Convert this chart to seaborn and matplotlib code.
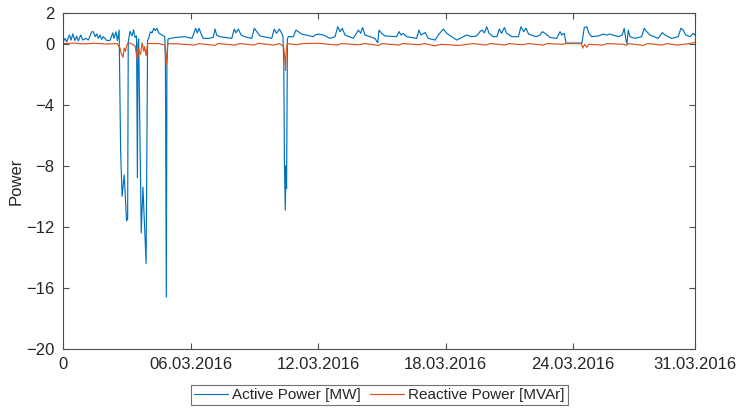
import matplotlib
matplotlib.use("Agg")
import matplotlib.pyplot as plt
import seaborn as sns
import pandas as pd

# ---- data (time in days since 01.03.2016) ----
active_day = [0.01, 0.09, 0.17, 0.30, 0.38, 0.46, 0.56, 0.64, 0.72, 0.83, 0.93, 1.08, 1.19,
              1.35, 1.43, 1.51, 1.59, 1.66, 1.74, 1.82, 1.90, 2.06, 2.21, 2.34, 2.40, 2.49,
              2.56, 2.64, 2.71, 2.78, 2.88, 2.99, 3.04, 3.07, 3.15, 3.25, 3.32, 3.39, 3.46,
              3.50, 3.53, 3.56, 3.68, 3.76, 3.91, 3.98, 4.03, 4.11, 4.19, 4.27, 4.34, 4.42,
              4.50, 4.66, 4.79, 4.82, 4.86, 4.89, 4.94, 5.27, 5.74, 6.06, 6.13, 6.24, 6.32,
              6.40, 6.49, 6.60, 6.84, 7.07, 7.15, 7.23, 7.39, 7.94, 8.06, 8.14, 8.25, 8.38,
              8.56, 8.88, 9.00, 9.12, 9.27, 9.82, 9.94, 10.05, 10.18, 10.29, 10.35, 10.39,
              10.42, 10.46, 10.49, 10.52, 10.56, 10.60, 10.84, 10.96, 11.07, 11.23, 11.78,
              11.86, 12.01, 12.25, 12.56, 12.80, 12.93, 13.04, 13.14, 13.27, 13.66, 13.90,
              14.01, 14.10, 14.21, 14.68, 14.81, 14.87, 15.00, 15.15, 15.70, 15.81, 15.91,
              16.01, 16.17, 16.64, 16.75, 16.85, 17.04, 17.19, 17.51, 17.66, 17.90, 18.06,
              18.29, 18.53, 18.68, 19.00, 19.23, 19.47, 19.62, 19.73, 19.83, 19.94, 20.05,
              20.25, 20.42, 20.53, 20.64, 20.77, 20.88, 21.12, 21.43, 21.55, 21.68, 21.79,
              21.91, 22.26, 22.45, 22.56, 22.68, 22.92, 23.23, 23.39, 23.47, 23.59, 23.67,
              24.42, 24.53, 24.65, 24.75, 24.88, 25.19, 25.43, 25.58, 25.74, 26.13, 26.32,
              26.41, 26.49, 26.54, 26.60, 26.68, 26.92, 27.23, 27.35, 27.47, 27.62, 28.01,
              28.20, 28.33, 28.64, 28.95, 29.08, 29.19, 29.30, 29.51, 29.66, 29.74]
active_mw = [0.12, 0.34, 0.12, 0.56, 0.23, 0.63, 0.20, 0.48, 0.17, 0.56, 0.23, 0.34, 0.23,
             0.77, 0.77, 0.45, 0.63, 0.34, 0.56, 0.28, 0.45, 0.20, 0.20, 0.70, 0.34, 0.77,
             0.20, 0.88, -7.0, -10.0, -8.6, -11.6, -11.5, 0.10, 0.80, 0.50, 0.90, 0.40, 0.50,
             -8.8, 0.0, 0.30, -12.4, -9.4, -14.4, 0.20, 0.34, 0.77, 0.70, 1.00, 0.85, 1.00,
             0.70, 0.55, 0.45, -1.3, -16.6, -1.3, 0.30, 0.40, 0.45, 0.34, 0.56, 1.00, 0.70,
             1.00, 0.67, 0.34, 0.34, 0.40, 0.95, 0.56, 0.45, 0.34, 0.95, 0.70, 0.95, 0.56,
             0.45, 0.34, 1.00, 0.78, 0.50, 0.34, 0.95, 0.67, 0.95, 0.67, 0.50, -1.3,
             -7.9, -10.9, -8.0, -9.5, 0.30, 0.45, 0.45, 0.88, 0.78, 0.62, 0.45,
             0.56, 0.62, 0.56, 0.34, 0.45, 1.10, 0.78, 1.00, 0.56, 0.34, 0.88,
             0.67, 1.05, 0.56, 0.34, 0.05, 0.88, 0.67, 0.50, 0.45, 0.78, 0.56,
             0.67, 0.45, 0.34, 0.88, 0.56, 0.72, 0.34, 0.23, 0.56, 0.95, 0.67,
             0.45, 0.23, 0.34, 0.56, 0.45, 0.50, 0.78, 0.88, 0.70, 1.10, 0.67,
             0.45, 0.45, 0.95, 0.67, 1.05, 0.67, 0.45, 0.45, 1.10, 0.78, 1.00,
             0.62, 0.45, 0.56, 0.78, 0.67, 0.40, 0.34, 0.78, 0.56, 0.67, 0.03,
             0.03, 1.05, 1.10, 0.67, 0.45, 0.50, 0.62, 0.56, 0.62, 0.45, 0.56,
             1.00, 0.23, 0.00, 0.88, 0.45, 0.34, 0.45, 1.00, 0.78, 0.56, 0.34,
             0.72, 0.56, 0.34, 0.45, 1.00, 0.88, 0.56, 0.45, 0.67, 0.56]

reactive_day = [0.0, 0.5, 1.0, 1.5, 2.0, 2.55, 2.68, 2.73, 2.82, 2.88, 2.94, 3.00, 3.07, 3.20,
                3.39, 3.50, 3.55, 3.60, 3.65, 3.72, 3.80, 3.84, 3.91, 3.98, 4.50, 4.80, 4.86,
                4.92, 5.00, 5.50, 6.20, 6.40, 7.15, 7.30, 8.10, 8.30, 9.00, 9.20, 9.90, 10.20,
                10.38, 10.44, 10.47, 10.50, 10.55, 11.00, 11.30, 12.00, 12.90, 13.10, 13.90,
                14.20, 14.85, 15.00, 15.80, 16.00, 16.75, 17.00, 17.50, 17.80, 18.60, 18.90,
                19.30, 19.90, 20.10, 20.80, 21.00, 21.60, 21.90, 22.60, 22.80, 23.50, 23.70,
                24.40, 24.45, 24.55, 24.65, 24.75, 25.40, 25.60, 26.40, 26.50, 26.60, 27.30,
                27.50, 28.20, 28.40, 28.90, 29.20, 29.50, 29.74]
reactive_mvar = [0.0, 0.03, -0.02, 0.02, -0.03, 0.0, -0.3, -0.6, -0.9, -0.3, -0.5, -0.1, 0.05,
                 0.0, -0.15, -1.1, -0.3, -0.6, -0.7, 0.05, -0.5, -0.2, -0.8, 0.0, 0.0, -0.1,
                 -1.4, -0.05, 0.0, -0.03, -0.1, 0.0, -0.12, 0.0, -0.1, 0.0, -0.1, 0.02, -0.1,
                 0.0, -0.2, -1.0, -1.75, -0.6, 0.0, -0.08, 0.0, 0.02, -0.1, 0.0, -0.08, 0.0,
                 -0.12, 0.0, -0.1, 0.0, -0.08, 0.0, -0.15, -0.05, -0.12, -0.08, 0.0, -0.1,
                 0.0, -0.1, 0.0, -0.08, 0.0, -0.1, 0.0, -0.05, 0.0, 0.0, -0.3, -0.05, -0.25,
                 -0.05, -0.1, 0.0, -0.05, -0.12, 0.0, -0.12, 0.0, -0.1, 0.0, -0.1, -0.05,
                 0.0, 0.08]

x_tick_pos = [0, 6, 12, 18, 24, 29.74]
x_tick_labels = ["0", "06.03.2016", "12.03.2016", "18.03.2016", "24.03.2016", "31.03.2016"]
y_ticks = [2, 0, -4, -8, -12, -16, -20]
series_names = ["Active Power [MW]", "Reactive Power [MVAr]"]

# ---- drawing ----
sns.set_theme(style="white")
plt.rcParams["font.family"] = ["Liberation Sans", "DejaVu Sans"]

fig = plt.figure(figsize=(7.38, 4.08), dpi=100)
ax = fig.add_axes([0.0854, 0.1446, 0.8563, 0.8235])

df_a = pd.DataFrame({"day": active_day, "val": active_mw})
df_r = pd.DataFrame({"day": reactive_day, "val": reactive_mvar})
sns.lineplot(data=df_a, x="day", y="val", ax=ax, color="#0072BD", linewidth=0.85,
             estimator=None, sort=False, label=series_names[0], legend=False)
sns.lineplot(data=df_r, x="day", y="val", ax=ax, color="#D95319", linewidth=0.85,
             estimator=None, sort=False, label=series_names[1], legend=False)

ax.set_xlim(0, 29.74)
ax.set_ylim(-20, 2)
ax.set_xticks(x_tick_pos)
ax.set_xticklabels(x_tick_labels)
ax.set_yticks(y_ticks)
ax.set_xlabel("")
ax.set_ylabel("Power", fontsize=12, color="#262626")
ax.yaxis.set_label_coords(-0.062, 0.5)

for s in ax.spines.values():
    s.set_color("#4d4d4d")
    s.set_linewidth(0.8)
    s.set_visible(True)
ax.tick_params(axis="both", which="both", direction="in", length=4, width=0.8,
               color="#4d4d4d", labelsize=12, labelcolor="#262626",
               top=True, right=True, bottom=True, left=True, pad=6)
ax.grid(False)

handles, labels = ax.get_legend_handles_labels()
leg = fig.legend(handles, labels, loc="lower center", bbox_to_anchor=(0.514, 0.0),
                 ncol=2, fontsize=11, frameon=True, fancybox=False, handlelength=2.2,
                 handletextpad=0.3, columnspacing=0.6, borderpad=0.2, borderaxespad=0.2)
leg.get_frame().set_edgecolor("#4d4d4d")
leg.get_frame().set_linewidth(0.8)
for t in leg.get_texts():
    t.set_color("#262626")

fig.savefig("out.png", dpi=100)
